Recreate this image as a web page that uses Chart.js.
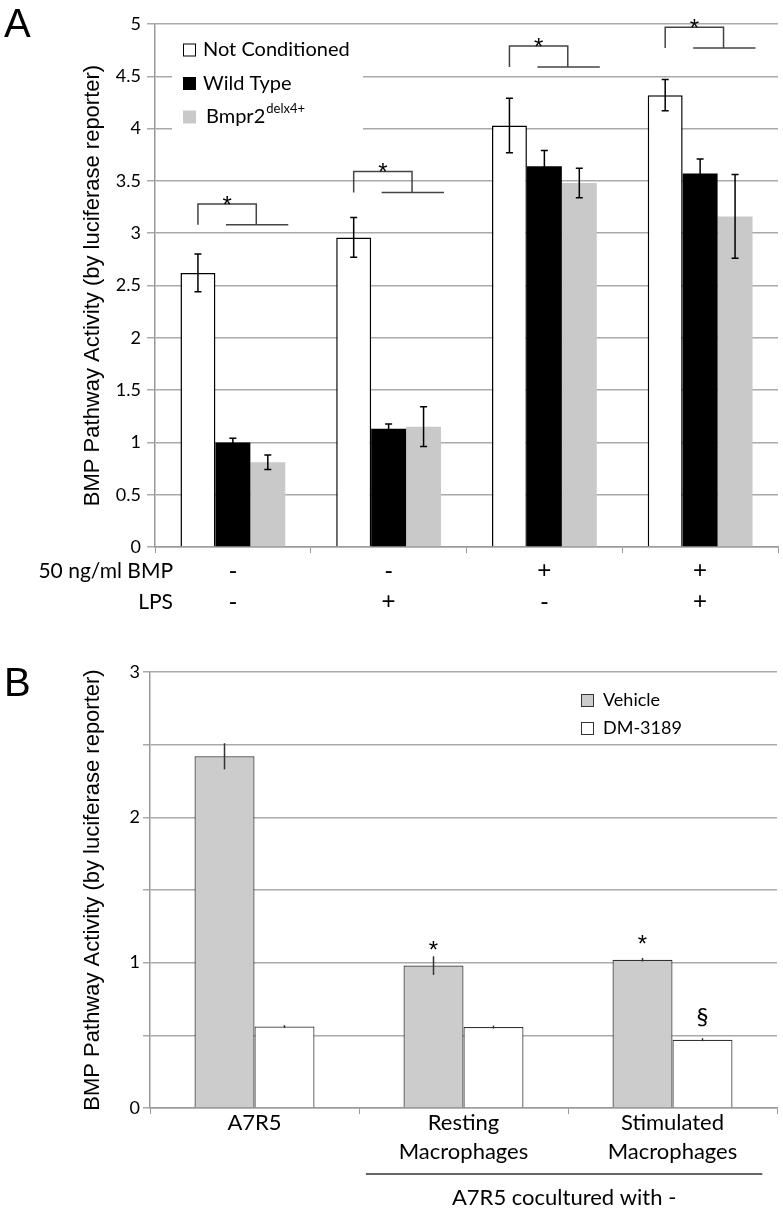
<!DOCTYPE html>
<html>
<head>
<meta charset="utf-8">
<script src="https://cdn.jsdelivr.net/npm/chart.js@4.4.1/dist/chart.umd.min.js"></script>
<style>
body { margin: 0; background: #fff; width: 783px; height: 1209px; position: relative; overflow: hidden; }
.panel { position: absolute; left: 0; width: 783px; }
.tag { position: absolute; left: 4px; font: 40px/40px "Liberation Sans", Arial, sans-serif; color: #000; }
</style>
</head>
<body>
<div class="panel" style="top:0;height:650px"><canvas id="chartA" width="783" height="650"></canvas></div>
<div class="panel" style="top:650px;height:559px"><canvas id="chartB" width="783" height="559"></canvas></div>
<div class="tag" style="top:3px">A</div>
<div class="tag" style="top:662px">B</div>
<script>
// panel A data
const groupsA = [['-', '-'], ['-', '+'], ['+', '-'], ['+', '+']];
const rowTitlesA = ['50 ng/ml BMP', 'LPS'];
const notConditioned = [2.62, 2.96, 4.03, 4.32];
const notConditionedErr = [0.18, 0.19, 0.26, 0.15];
const wildType = [1.00, 1.13, 3.64, 3.57];
const wildTypeErr = [0.04, 0.045, 0.15, 0.14];
const bmpr2 = [0.81, 1.15, 3.48, 3.16];
const bmpr2Err = [0.07, 0.19, 0.14, 0.40];
const sigTopA = [3.28, 3.59, 4.79, 4.97];
const sigLowA = [3.08, 3.39, 4.59, 4.77];

// panel B data
const categoriesB = ['A7R5', ['Resting', 'Macrophages'], ['Stimulated', 'Macrophages']];
const vehicle = [2.42, 0.98, 1.02];
const vehicleErr = [0.09, 0.064, 0.012];
const dm3189 = [0.56, 0.557, 0.47];
const dm3189Err = [0.01, 0.01, 0.01];
const marksVehicle = ['', '*', '*'];
const marksDM = ['', '', '§'];
const captionB = 'A7R5 cocultured with -';

const yTitle = 'BMP Pathway Activity (by luciferase reporter)';
const titleFont = '"Liberation Sans", Arial, sans-serif';
Chart.defaults.font.family = 'Lato';
Chart.defaults.color = '#000';

const errorBars = {
    id: 'errorBars',
    afterDatasetsDraw(chart, args, opts) {
        const ctx = chart.ctx, y = chart.scales.y;
        chart.data.datasets.forEach((ds, di) => {
            if (!ds.errors) return;
            chart.getDatasetMeta(di).data.forEach((bar, i) => {
                const top = y.getPixelForValue(ds.data[i] + ds.errors[i]);
                const bot = y.getPixelForValue(ds.data[i] - ds.errors[i]);
                ctx.save();
                ctx.strokeStyle = opts.color;
                ctx.lineWidth = opts.width;
                ctx.beginPath();
                ctx.moveTo(bar.x, top); ctx.lineTo(bar.x, bot);
                if (opts.cap) {
                    ctx.moveTo(bar.x - opts.cap, top); ctx.lineTo(bar.x + opts.cap, top);
                    ctx.moveTo(bar.x - opts.cap, bot); ctx.lineTo(bar.x + opts.cap, bot);
                }
                ctx.stroke();
                ctx.restore();
            });
        });
    }
};

const legendA = {
    id: 'legendA',
    afterDraw(chart) {
        const ctx = chart.ctx, area = chart.chartArea;
        ctx.save();
        ctx.fillStyle = '#fff';
        ctx.fillRect(area.left + 17, area.top + 7, 191, 110);
        chart.data.datasets.forEach((ds, i) => {
            const x = area.left + 28, cy = area.top + 26 + i * 33.5;
            ctx.fillStyle = ds.backgroundColor;
            ctx.fillRect(x, cy - 6.5, 13, 13);
            if (ds.borderWidth) {
                ctx.strokeStyle = '#000'; ctx.lineWidth = 1;
                ctx.strokeRect(x + 0.5, cy - 6, 12, 12);
            }
            ctx.fillStyle = '#000';
            ctx.textBaseline = 'middle';
            ctx.textAlign = 'left';
            ctx.font = '20px Lato';
            const tx = x + (ds.sup ? 23 : 20);
            ctx.fillText(ds.label, tx, cy);
            if (ds.sup) {
                const w = ctx.measureText(ds.label).width;
                ctx.font = '13px Lato';
                ctx.fillText(ds.sup, tx + w + 1, cy - 8);
            }
        });
        ctx.restore();
    }
};

const bracketsA = {
    id: 'bracketsA',
    afterDatasetsDraw(chart) {
        const ctx = chart.ctx, y = chart.scales.y;
        const m0 = chart.getDatasetMeta(0).data, m1 = chart.getDatasetMeta(1).data, m2 = chart.getDatasetMeta(2).data;
        ctx.save();
        ctx.strokeStyle = '#444';
        ctx.lineWidth = 1.5;
        sigTopA.forEach((v, i) => {
            const left = m0[i].x;
            const right = m1[i].x + m1[i].width * 0.67;
            const lowStart = m1[i].x - m1[i].width * 0.2;
            const lowEnd = m2[i].x + m2[i].width / 2 + 3;
            const yt = y.getPixelForValue(v), yl = y.getPixelForValue(sigLowA[i]);
            ctx.beginPath();
            ctx.moveTo(left, yl); ctx.lineTo(left, yt); ctx.lineTo(right, yt); ctx.lineTo(right, yl);
            ctx.moveTo(lowStart, yl); ctx.lineTo(lowEnd, yl);
            ctx.stroke();
            ctx.fillStyle = '#000';
            ctx.font = '24px "Liberation Sans"';
            ctx.textAlign = 'center';
            ctx.textBaseline = 'alphabetic';
            ctx.fillText('*', (left + right) / 2, yt + 9);
        });
        ctx.restore();
    }
};

const rowTitles = {
    id: 'rowTitles',
    afterDraw(chart) {
        const ctx = chart.ctx, xs = chart.scales.x;
        ctx.save();
        ctx.fillStyle = '#000';
        ctx.font = '21px Lato';
        ctx.textAlign = 'right';
        ctx.textBaseline = 'middle';
        rowTitlesA.forEach((t, j) => {
            ctx.fillText(t, chart.chartArea.left + 18, xs.top + 9 + 15.5 + j * 31);
        });
        ctx.restore();
    }
};

new Chart(document.getElementById('chartA'), {
    type: 'bar',
    data: {
        labels: groupsA,
        datasets: [
            { label: 'Not Conditioned', data: notConditioned, errors: notConditionedErr, backgroundColor: '#ffffff', borderColor: '#000', borderWidth: 1.5 },
            { label: 'Wild Type', data: wildType, errors: wildTypeErr, backgroundColor: '#000000', borderWidth: 0 },
            { label: 'Bmpr2', sup: 'delx4+', data: bmpr2, errors: bmpr2Err, backgroundColor: '#c9c9c9', borderWidth: 0 }
        ]
    },
    options: {
        responsive: false,
        animation: false,
        layout: { padding: { left: 80, right: 5, top: 24, bottom: 33 } },
        datasets: { bar: { categoryPercentage: 0.673, barPercentage: 1 } },
        plugins: {
            legend: { display: false },
            tooltip: { enabled: false },
            errorBars: { color: '#000', width: 1.5, cap: 3.5 }
        },
        scales: {
            x: {
                grid: { display: true, drawOnChartArea: false, drawTicks: true, tickLength: 6, color: '#999' },
                border: { color: '#999', width: 1.5 },
                ticks: { font: { family: '"Liberation Sans"', size: 24, lineHeight: 31 / 24 }, padding: 3, maxRotation: 0, autoSkip: false, color: '#000' },
                afterFit(s) { s.height = 70; }
            },
            y: {
                min: 0, max: 5,
                ticks: { stepSize: 0.5, font: { size: 18 }, padding: 6, color: '#000',
                    callback: v => String(Math.round(v * 10) / 10) },
                grid: { color: '#aaa', lineWidth: 1.5, tickLength: 8 },
                border: { color: '#999', width: 1.5 },
                title: { display: true, text: yTitle, font: { family: titleFont, size: 22 }, padding: 0, color: '#000' },
                afterFit(s) { s.width = 75; }
            }
        }
    },
    plugins: [errorBars, bracketsA, legendA, rowTitles]
});

const marksB = {
    id: 'marksB',
    afterDatasetsDraw(chart) {
        const ctx = chart.ctx;
        ctx.save();
        ctx.fillStyle = '#000';
        ctx.textAlign = 'center';
        ctx.textBaseline = 'alphabetic';
        chart.data.datasets.forEach((ds, di) => {
            chart.getDatasetMeta(di).data.forEach((bar, i) => {
                const m = ds.marks[i];
                if (!m) return;
                if (m === '*') {
                    ctx.font = '24px "Liberation Sans"';
                    ctx.fillText(m, bar.x, bar.y - 22 + 14);
                } else {
                    ctx.font = '24px Lato';
                    ctx.fillText(m, bar.x, bar.y - 22 + 7);
                }
            });
        });
        ctx.restore();
    }
};

const legendB = {
    id: 'legendB',
    afterDraw(chart) {
        const ctx = chart.ctx, area = chart.chartArea;
        ctx.save();
        chart.data.datasets.forEach((ds, i) => {
            const x = area.right - 196, cy = area.top + 28 + i * 28;
            ctx.fillStyle = ds.backgroundColor;
            ctx.fillRect(x, cy - 6, 12, 12);
            ctx.strokeStyle = '#333'; ctx.lineWidth = 1;
            ctx.strokeRect(x + 0.5, cy - 5.5, 12, 12);
            ctx.fillStyle = '#000';
            ctx.font = '18px Lato';
            ctx.textAlign = 'left';
            ctx.textBaseline = 'middle';
            ctx.fillText(ds.label, x + 22, cy);
        });
        ctx.restore();
    }
};

const captionPlugin = {
    id: 'captionB',
    afterDraw(chart) {
        const ctx = chart.ctx, xs = chart.scales.x;
        const catW = xs.width / categoriesB.length;
        const x0 = xs.getPixelForValue(1) - catW * 0.467;
        const x1 = xs.getPixelForValue(2) + catW * 0.43;
        ctx.save();
        ctx.strokeStyle = '#333';
        ctx.lineWidth = 1.5;
        ctx.beginPath();
        ctx.moveTo(x0, xs.top + 66); ctx.lineTo(x1, xs.top + 66);
        ctx.stroke();
        ctx.fillStyle = '#000';
        ctx.font = '22px Lato';
        ctx.textAlign = 'center';
        ctx.textBaseline = 'middle';
        ctx.fillText(captionB, (x0 + x1) / 2, xs.top + 90);
        ctx.restore();
    }
};

new Chart(document.getElementById('chartB'), {
    type: 'bar',
    data: {
        labels: categoriesB,
        datasets: [
            { label: 'Vehicle', data: vehicle, errors: vehicleErr, marks: marksVehicle, backgroundColor: '#cccccc', borderColor: '#333', borderWidth: 1.2 },
            { label: 'DM-3189', data: dm3189, errors: dm3189Err, marks: marksDM, backgroundColor: '#ffffff', borderColor: '#333', borderWidth: 1.2 }
        ]
    },
    options: {
        responsive: false,
        animation: false,
        layout: { padding: { left: 80, right: 6, top: 22, bottom: 41 } },
        datasets: { bar: { categoryPercentage: 0.574, barPercentage: 1 } },
        plugins: {
            legend: { display: false },
            tooltip: { enabled: false },
            errorBars: { color: '#333', width: 1.5, cap: 0 }
        },
        scales: {
            x: {
                grid: { display: true, drawOnChartArea: false, drawTicks: true, tickLength: 6, color: '#999' },
                border: { color: '#999', width: 1.5 },
                ticks: { font: { size: 22, lineHeight: 29 / 22 }, padding: -5.5, maxRotation: 0, autoSkip: false, color: '#000' },
                afterFit(s) { s.height = 60; }
            },
            y: {
                min: 0, max: 3,
                ticks: { stepSize: 0.5, font: { size: 18 }, padding: 3, color: '#000',
                    callback: v => Number.isInteger(v) ? String(v) : '' },
                grid: { color: '#aaa', lineWidth: 1.5, tickLength: 7 },
                border: { color: '#999', width: 1.5 },
                title: { display: true, text: yTitle, font: { family: titleFont, size: 22 }, padding: 0, color: '#000' },
                afterFit(s) { s.width = 70; }
            }
        }
    },
    plugins: [errorBars, marksB, legendB, captionPlugin]
});
</script>
</body>
</html>
